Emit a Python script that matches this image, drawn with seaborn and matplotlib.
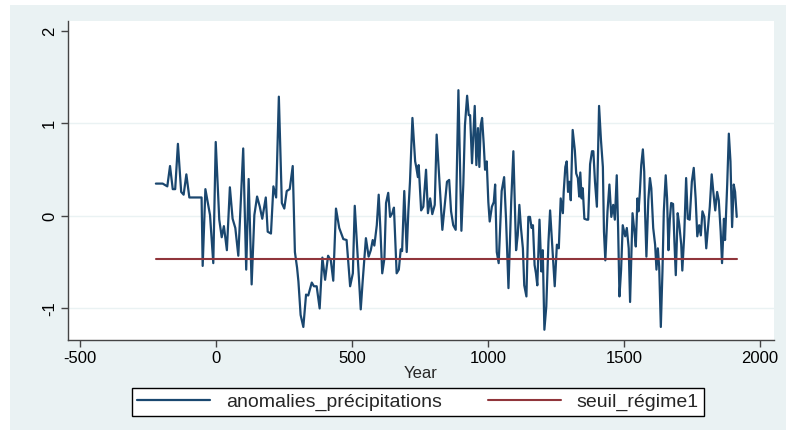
import matplotlib
matplotlib.use("Agg")
import matplotlib.pyplot as plt
import matplotlib.patches as mpatches
import numpy as np
import pandas as pd
import seaborn as sns

# values
years = [-221, -196, -179, -169, -159, -150, -140, -128, -119, -109, -98, -53, -49, -39, -22, -10, -1,
         12, 21, 29, 40, 51, 61, 71, 82, 100, 111, 120, 131, 141, 151, 161, 170, 183, 190, 202, 211,
         221, 231, 242, 251, 260, 271, 282, 290, 298, 303, 311, 321, 331, 339, 352, 360, 370, 381,
         391, 401, 412, 422, 431, 441, 453, 468, 480, 493, 503, 510, 519, 532, 539, 551, 561, 569,
         576, 582, 591, 598, 604, 611, 619, 625, 633, 640, 648, 654, 664, 672, 679, 684, 692, 701,
         707, 713, 722, 732, 736, 742, 745, 754, 762, 772, 779, 787, 795, 804, 811, 822, 832, 842,
         849, 857, 864, 872, 881, 891, 902, 909, 915, 923, 929, 934, 941, 951, 957, 963, 968, 973,
         978, 984, 989, 995, 1001, 1006, 1014, 1021, 1026, 1032, 1039, 1050, 1059, 1066, 1075, 1085,
         1093, 1103, 1109, 1115, 1121, 1128, 1133, 1141, 1148, 1154, 1160, 1165, 1171, 1176, 1181,
         1189, 1196, 1201, 1207, 1214, 1222, 1228, 1238, 1245, 1253, 1260, 1267, 1275, 1278, 1284,
         1289, 1294, 1299, 1304, 1311, 1319, 1324, 1330, 1335, 1339, 1344, 1348, 1354, 1363, 1368,
         1375, 1382, 1387, 1393, 1400, 1408, 1415, 1422, 1426, 1431, 1439, 1446, 1453, 1460, 1466,
         1473, 1478, 1483, 1489, 1495, 1504, 1510, 1517, 1522, 1531, 1538, 1543, 1549, 1553, 1558,
         1563, 1569, 1574, 1577, 1582, 1589, 1595, 1600, 1607, 1614, 1619, 1624, 1629, 1635, 1641,
         1646, 1653, 1658, 1663, 1668, 1673, 1680, 1685, 1690, 1697, 1703, 1710, 1714, 1721, 1728,
         1734, 1741, 1749, 1756, 1763, 1769, 1776, 1782, 1788, 1795, 1802, 1809, 1815, 1822, 1828,
         1835, 1842, 1848, 1855, 1860, 1867, 1871, 1879, 1885, 1891, 1897, 1903, 1908, 1914]

anomalies = [0.35, 0.35, 0.32, 0.54, 0.29, 0.29, 0.78, 0.26, 0.23, 0.45, 0.20, 0.20, -0.54, 0.29, 0.01,
             -0.51, 0.80, -0.04, -0.23, -0.11, -0.37, 0.31, -0.03, -0.13, -0.43, 0.73, -0.58, 0.40,
             -0.74, 0.01, 0.21, 0.10, -0.03, 0.20, -0.17, -0.19, 0.32, 0.20, 1.29, 0.14, 0.08, 0.27,
             0.29, 0.54, -0.39, -0.56, -0.71, -1.07, -1.20, -0.85, -0.86, -0.72, -0.76, -0.76, -1.00,
             -0.45, -0.69, -0.43, -0.48, -0.70, 0.08, -0.13, -0.25, -0.26, -0.76, -0.62, 0.11, -0.35,
             -1.01, -0.71, -0.24, -0.44, -0.37, -0.26, -0.32, -0.10, 0.23, -0.13, -0.62, -0.46, 0.14,
             0.25, -0.01, 0.03, 0.09, -0.62, -0.58, -0.36, -0.38, 0.27, -0.39, 0.05, 0.37, 1.06, 0.59,
             0.53, 0.42, 0.55, 0.06, 0.10, 0.50, 0.03, 0.19, 0.02, 0.12, 0.88, 0.34, -0.15, 0.15, 0.37,
             0.39, 0.05, -0.10, -0.15, 1.36, -0.16, 0.34, 0.98, 1.30, 1.09, 1.09, 0.57, 1.19, 0.55,
             0.95, 0.53, 0.98, 1.06, 0.78, 0.50, 0.59, 0.15, -0.06, 0.10, 0.15, 0.34, -0.39, -0.51,
             0.27, 0.42, -0.03, -0.78, 0.15, 0.70, -0.37, -0.21, 0.12, -0.13, -0.35, -0.75, -0.87,
             -0.01, -0.01, -0.13, -0.10, -0.53, -0.62, -0.75, -0.04, -0.60, -0.37, -1.23, -0.98, -0.28,
             0.06, -0.42, -0.76, -0.31, -0.35, 0.19, 0.03, 0.26, 0.53, 0.59, 0.26, 0.37, 0.17, 0.93,
             0.71, 0.46, 0.41, 0.21, 0.47, 0.19, 0.30, -0.03, -0.04, -0.04, 0.56, 0.70, 0.70, 0.37,
             0.10, 1.19, 0.82, 0.53, -0.17, -0.48, 0.05, 0.34, -0.01, 0.12, -0.04, 0.44, -0.13, -0.87,
             -0.58, -0.10, -0.22, -0.13, -0.35, -0.93, 0.03, -0.17, -0.33, 0.19, 0.05, 0.26, 0.55,
             0.72, 0.48, 0.05, -0.44, 0.17, 0.41, 0.30, -0.13, -0.31, -0.58, -0.35, -0.55, -1.20,
             -0.60, 0.05, 0.44, 0.19, -0.37, -0.04, 0.14, 0.13, -0.28, -0.64, 0.03, -0.10, -0.31,
             -0.59, -0.21, 0.41, -0.03, -0.04, 0.37, 0.52, 0.19, -0.22, -0.10, -0.21, 0.05, -0.01,
             -0.35, -0.10, 0.10, 0.45, 0.26, 0.06, 0.26, 0.17, -0.17, -0.51, -0.03, -0.26, 0.34, 0.89,
             0.59, -0.12, 0.34, 0.26, -0.01]

seuil_value = -0.46
x_ticks = [-500, 0, 500, 1000, 1500, 2000]
y_ticks = [-1, 0, 1, 2]

df = pd.DataFrame({"Year": years, "anomalies_précipitations": anomalies})
df["seuil_régime1"] = seuil_value

sns.set_style("white")
plt.rcParams["font.family"] = ["Liberation Sans", "DejaVu Sans"]

fig = plt.figure(figsize=(7.86, 4.33), dpi=100, facecolor="white")
# stata-like light blue-gray graph region, kept behind the axes
fig.patches.append(mpatches.Rectangle((10 / 786, 3 / 433), 776 / 786, 425 / 433,
                                      transform=fig.transFigure, facecolor="#eaf2f3",
                                      edgecolor="none", zorder=-10))

ax = fig.add_axes([68 / 786, 1 - 340 / 433, 706 / 786, 319 / 433])
ax.set_zorder(1)
ax.set_facecolor("white")

sns.lineplot(data=df, x="Year", y="anomalies_précipitations", ax=ax, color="#1a476f",
             linewidth=1.6, label="anomalies_précipitations", legend=False)
sns.lineplot(data=df, x="Year", y="seuil_régime1", ax=ax, color="#90353b",
             linewidth=1.5, label="seuil_régime1", legend=False)

ax.set_xlim(-544, 2051)
ax.set_ylim(-1.341, 2.108)
ax.set_xticks(x_ticks)
ax.set_yticks(y_ticks)
ax.set_xticklabels([str(t) for t in x_ticks], fontsize=12)
ax.set_yticklabels([str(t) for t in y_ticks], fontsize=12, rotation=90, va="center")
ax.tick_params(axis="both", direction="out", length=5, width=1, color="#444444",
               labelcolor="black", pad=3, left=True, bottom=True)

ax.yaxis.grid(True, color="#eaf2f3", linewidth=1)
ax.xaxis.grid(False)
ax.get_ygridlines()[-1].set_visible(False)

for side in ["top", "right"]:
    ax.spines[side].set_visible(False)
for side in ["left", "bottom"]:
    ax.spines[side].set_color("#444444")
    ax.spines[side].set_linewidth(1)

ax.set_xlabel("Year", fontsize=12, labelpad=0)
ax.set_ylabel("")

handles, labels = ax.get_legend_handles_labels()
leg = fig.legend(handles, labels, loc="center", bbox_to_anchor=(418 / 786, 1 - 402 / 433),
                 ncol=2, fontsize=14, frameon=True, fancybox=False, edgecolor="black",
                 framealpha=1, handlelength=3.75, columnspacing=2.4, borderpad=0.25,
                 handletextpad=0.8)
leg.get_frame().set_linewidth(1)

fig.savefig("out.png", dpi=100, facecolor="white")
